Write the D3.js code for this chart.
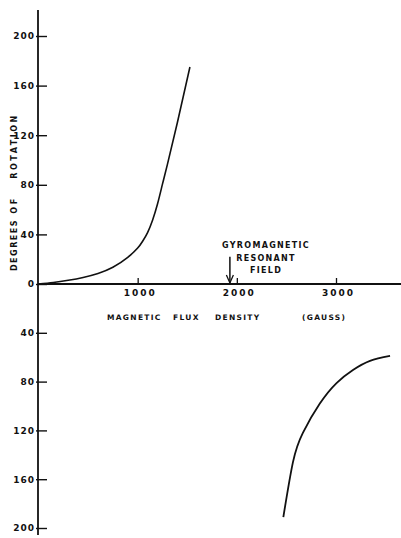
<!DOCTYPE html>
<html>
<head>
<meta charset="utf-8">
<script src="https://cdn.jsdelivr.net/npm/d3@7"></script>
<style>
    html, body { margin: 0; padding: 0; background: #fff; }
    svg { display: block; }
    text { font-family: "DejaVu Sans", sans-serif; font-weight: bold; fill: #111; }
</style>
</head>
<body>
<div id="chart"></div>
<script>
// Faraday rotation vs magnetic flux density
const belowResonanceGauss = [0, 150, 300, 450, 600, 750, 900, 1000, 1050, 1100, 1150, 1200, 1250, 1300, 1400, 1527];
const belowResonanceDeg   = [0, 1.2, 3, 5.3, 8.5, 13.5, 21.5, 29, 34.5, 41.5, 51.5, 64.5, 80.5, 96.5, 130, 175];

const aboveResonanceGauss = [2469, 2566, 2666, 2837, 3008, 3171, 3343, 3545];
const aboveResonanceDeg   = [-191, -146, -122, -98, -81, -70.5, -63, -59];

const xTicks = [1000, 2000, 3000];
const yTicks = [-200, -160, -120, -80, -40, 0, 40, 80, 120, 160, 200];

const resonantField = 1930;          // gauss, where the arrow points
const arrowFromDeg = 22;
const noteLines = ['GYROMAGNETIC', 'RESONANT', 'FIELD'];

const width = 401;
const height = 538;
const axisX = 38;

const x = d3.scaleLinear().domain([0, 3000]).range([axisX + 0.5, 336]);
const y = d3.scaleLinear().domain([-200, 0, 200]).range([528, 284, 36]);

const svg = d3.select('#chart').append('svg')
    .attr('width', width)
    .attr('height', height);

// Axis lines (they run past the last ticks)
svg.append('line')
    .attr('x1', axisX).attr('x2', axisX)
    .attr('y1', 10).attr('y2', 535)
    .attr('stroke', '#111').attr('stroke-width', 1.8);

svg.append('line')
    .attr('x1', axisX).attr('x2', width)
    .attr('y1', y(0)).attr('y2', y(0))
    .attr('stroke', '#111').attr('stroke-width', 1.8);

// Y ticks on the right side of the axis, labels on the left
const yAxis = svg.append('g')
    .attr('transform', `translate(${axisX},0)`)
    .call(d3.axisRight(y).tickValues(yTicks).tickSize(9).tickFormat(d => Math.abs(d)));
yAxis.select('.domain').remove();
yAxis.selectAll('.tick line').attr('x1', -2).attr('stroke', '#111').attr('stroke-width', 1.4);
yAxis.selectAll('.tick text')
    .attr('x', -3)
    .attr('text-anchor', 'end')
    .style('font-size', '9px')
    .style('letter-spacing', '1px');

// X ticks point up, labels sit below the axis
const xAxis = svg.append('g')
    .attr('transform', `translate(0,${y(0)})`)
    .call(d3.axisTop(x).tickValues(xTicks).tickSize(6).tickFormat(d3.format('d')));
xAxis.select('.domain').remove();
xAxis.selectAll('.tick line').attr('stroke', '#111').attr('stroke-width', 1.3);
xAxis.selectAll('.tick text')
    .attr('y', 12)
    .attr('dy', 0)
    .attr('dx', 2)
    .style('font-size', '9px')
    .style('letter-spacing', '2px');

// Curves
const line = d3.line()
    .x(d => x(d[0]))
    .y(d => y(d[1]))
    .curve(d3.curveNatural);

svg.append('path')
    .datum(d3.zip(belowResonanceGauss, belowResonanceDeg))
    .attr('fill', 'none')
    .attr('stroke', '#111')
    .attr('stroke-width', 1.6)
    .attr('d', line);

svg.append('path')
    .datum(d3.zip(aboveResonanceGauss, aboveResonanceDeg))
    .attr('fill', 'none')
    .attr('stroke', '#111')
    .attr('stroke-width', 1.8)
    .attr('d', line);

// Resonance arrow + note
const ax = x(resonantField);
const tipY = y(0) - 1;
svg.append('line')
    .attr('x1', ax).attr('x2', ax)
    .attr('y1', y(arrowFromDeg)).attr('y2', tipY)
    .attr('stroke', '#111').attr('stroke-width', 1.5);
svg.append('path')
    .attr('d', `M${ax - 3.5},${tipY - 8} L${ax},${tipY} L${ax + 3.5},${tipY - 8}`)
    .attr('fill', 'none')
    .attr('stroke', '#111')
    .attr('stroke-width', 1.3);

svg.append('g')
    .selectAll('text')
    .data(noteLines)
    .enter()
    .append('text')
    .attr('x', 266)
    .attr('y', (d, i) => 248 + i * 12.5)
    .attr('text-anchor', 'middle')
    .style('font-size', '8px')
    .style('letter-spacing', '1.3px')
    .text(d => d);

// Axis titles
const xTitle = svg.append('text')
    .attr('y', 320)
    .style('font-size', '7.5px')
    .style('letter-spacing', '1.3px');
[['MAGNETIC', 107], ['FLUX', 173], ['DENSITY', 215], ['(GAUSS)', 302]].forEach(([word, px]) => {
    xTitle.append('tspan').attr('x', px).text(word);
});

[['ROTATION', 146], ['OF', 205], ['DEGREES', 245]].forEach(([word, py]) => {
    svg.append('text')
        .attr('transform', `translate(17,${py}) rotate(-90)`)
        .attr('text-anchor', 'middle')
        .style('font-size', '8px')
        .style('letter-spacing', word === 'DEGREES' ? '1.5px' : '2.5px')
        .text(word);
});
</script>
</body>
</html>
